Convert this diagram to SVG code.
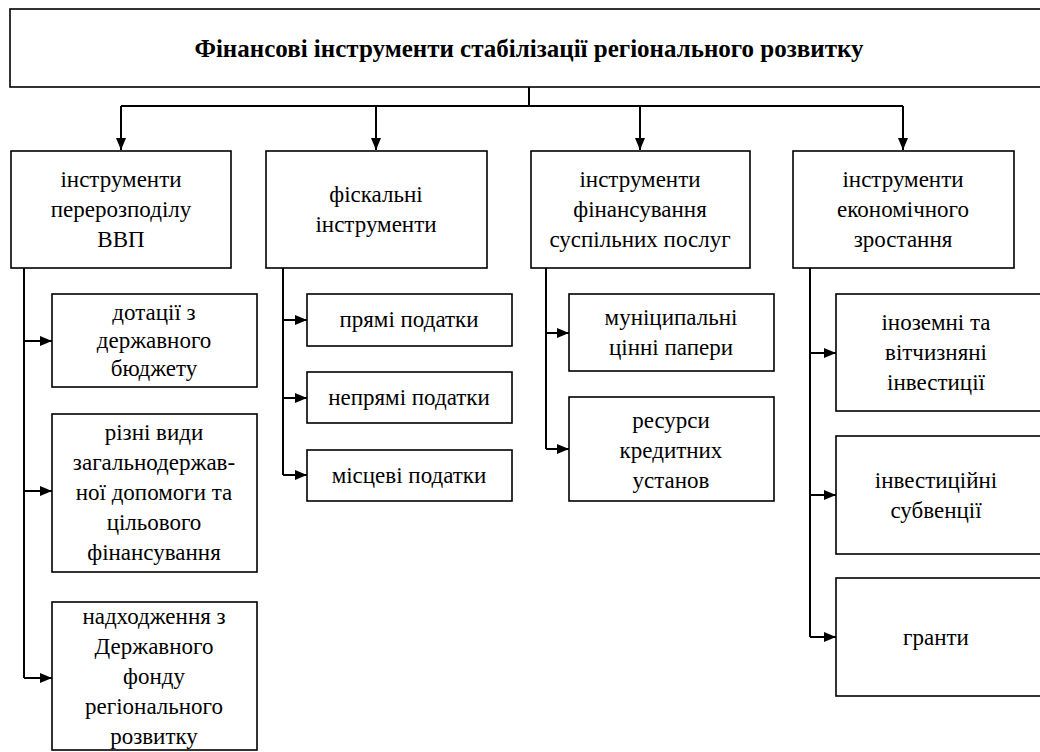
<svg xmlns="http://www.w3.org/2000/svg" width="1040" height="752" viewBox="0 0 1040 752" font-family="Liberation Serif, DejaVu Serif, serif">
<style>
.box{fill:#fff;stroke:#000;stroke-width:1.6}
.t{font-size:23px;fill:#000;text-anchor:middle}
.title{font-size:25px;font-weight:bold;fill:#000;text-anchor:middle}
.ln{fill:none;stroke:#000;stroke-width:2}
</style>
<defs>
<marker id="ah" markerUnits="userSpaceOnUse" markerWidth="13" markerHeight="10" refX="12" refY="5" orient="auto">
<path d="M0,0 L12,5 L0,10 z" fill="#000"/>
</marker>
</defs>
<rect width="1040" height="752" fill="#fff"/>
<g id="connectors">
<path class="ln" d="M529,87 V106 M121,106 H903"/>
<path class="ln" d="M121,106 V150" marker-end="url(#ah)"/>
<path class="ln" d="M376,106 V150" marker-end="url(#ah)"/>
<path class="ln" d="M640,106 V150" marker-end="url(#ah)"/>
<path class="ln" d="M903,106 V150" marker-end="url(#ah)"/>
<path class="ln" d="M24,268 V678"/>
<path class="ln" d="M24,341 H52" marker-end="url(#ah)"/>
<path class="ln" d="M24,491 H52" marker-end="url(#ah)"/>
<path class="ln" d="M24,678 H52" marker-end="url(#ah)"/>
<path class="ln" d="M283,268 V475"/>
<path class="ln" d="M283,320 H307" marker-end="url(#ah)"/>
<path class="ln" d="M283,398 H307" marker-end="url(#ah)"/>
<path class="ln" d="M283,475 H307" marker-end="url(#ah)"/>
<path class="ln" d="M546,268 V449"/>
<path class="ln" d="M546,333 H569" marker-end="url(#ah)"/>
<path class="ln" d="M546,449 H569" marker-end="url(#ah)"/>
<path class="ln" d="M810,268 V637"/>
<path class="ln" d="M810,353 H836" marker-end="url(#ah)"/>
<path class="ln" d="M810,495 H836" marker-end="url(#ah)"/>
<path class="ln" d="M810,637 H836" marker-end="url(#ah)"/>
</g>
<g id="root">
<rect class="box" x="10" y="9" width="1040" height="78"/>
<text class="title" x="529" y="57" font-family="Liberation Serif">Фінансові інструменти стабілізації регіонального розвитку</text>
</g>
<g id="n1">
<rect class="box" x="11" y="151" width="220" height="117"/>
<text class="t" x="121" y="187">інструменти</text>
<text class="t" x="121" y="217">перерозподілу</text>
<text class="t" x="121" y="247">ВВП</text>
</g>
<g id="n2">
<rect class="box" x="266" y="151" width="221" height="117"/>
<text class="t" x="376" y="202">фіскальні</text>
<text class="t" x="376" y="232">інструменти</text>
</g>
<g id="n3">
<rect class="box" x="531" y="151" width="219" height="117"/>
<text class="t" x="640" y="187">інструменти</text>
<text class="t" x="640" y="217">фінансування</text>
<text class="t" x="640" y="247">суспільних послуг</text>
</g>
<g id="n4">
<rect class="box" x="793" y="151" width="221" height="117"/>
<text class="t" x="903" y="187">інструменти</text>
<text class="t" x="903" y="217">економічного</text>
<text class="t" x="903" y="247">зростання</text>
</g>
<g id="n1a">
<rect class="box" x="52" y="294" width="205" height="93"/>
<text class="t" x="154" y="320">дотації з</text>
<text class="t" x="154" y="348">державного</text>
<text class="t" x="154" y="376">бюджету</text>
</g>
<g id="n1b">
<rect class="box" x="52" y="414" width="205" height="158"/>
<text class="t" x="154" y="440">різні види</text>
<text class="t" x="154" y="470">загальнодержав-</text>
<text class="t" x="154" y="500">ної допомоги та</text>
<text class="t" x="154" y="530">цільового</text>
<text class="t" x="154" y="560">фінансування</text>
</g>
<g id="n1c">
<rect class="box" x="52" y="602" width="205" height="148"/>
<text class="t" x="154" y="624">надходження з</text>
<text class="t" x="154" y="654">Державного</text>
<text class="t" x="154" y="684">фонду</text>
<text class="t" x="154" y="714">регіонального</text>
<text class="t" x="154" y="744">розвитку</text>
</g>
<g id="n2a">
<rect class="box" x="307" y="294" width="205" height="52"/>
<text class="t" x="409" y="327">прямі податки</text>
</g>
<g id="n2b">
<rect class="box" x="307" y="372" width="205" height="51"/>
<text class="t" x="409" y="405">непрямі податки</text>
</g>
<g id="n2c">
<rect class="box" x="307" y="450" width="205" height="51"/>
<text class="t" x="409" y="483">місцеві податки</text>
</g>
<g id="n3a">
<rect class="box" x="569" y="294" width="205" height="77"/>
<text class="t" x="671" y="325">муніципальні</text>
<text class="t" x="671" y="355">цінні папери</text>
</g>
<g id="n3b">
<rect class="box" x="569" y="397" width="205" height="104"/>
<text class="t" x="671" y="428">ресурси</text>
<text class="t" x="671" y="458">кредитних</text>
<text class="t" x="671" y="488">установ</text>
</g>
<g id="n4a">
<rect class="box" x="836" y="294" width="210" height="117"/>
<text class="t" x="936" y="330">іноземні та</text>
<text class="t" x="936" y="360">вітчизняні</text>
<text class="t" x="936" y="390">інвестиції</text>
</g>
<g id="n4b">
<rect class="box" x="836" y="436" width="210" height="118"/>
<text class="t" x="936" y="488">інвестиційні</text>
<text class="t" x="936" y="518">субвенції</text>
</g>
<g id="n4c">
<rect class="box" x="836" y="578" width="210" height="118"/>
<text class="t" x="936" y="645">гранти</text>
</g>
</svg>
